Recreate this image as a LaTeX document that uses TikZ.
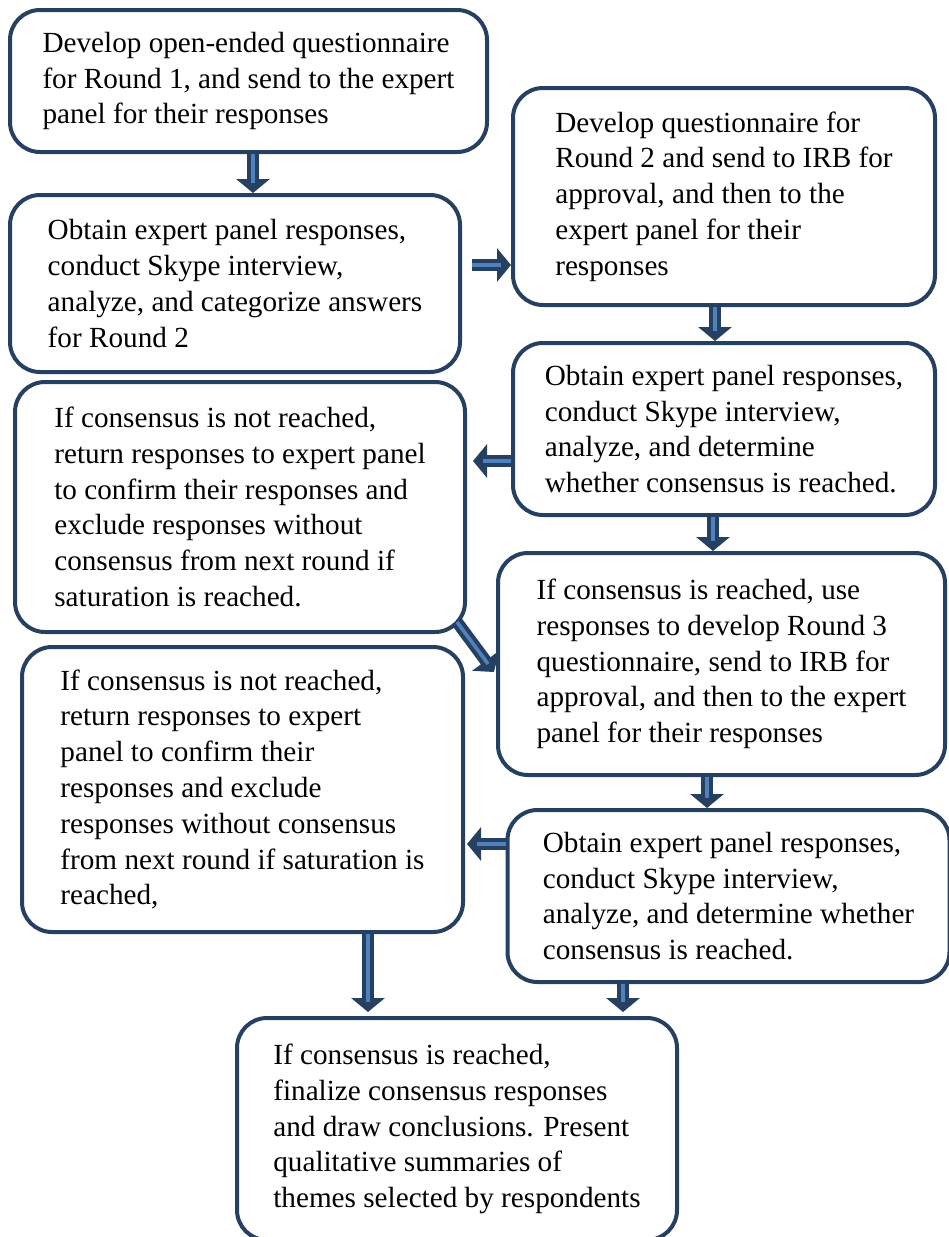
\documentclass[tikz,border=0pt]{standalone}
\usepackage{fontspec}
\setmainfont{Liberation Serif}
\usetikzlibrary{arrows.meta,calc}
\definecolor{navy}{RGB}{38,64,97}
\definecolor{stripe}{RGB}{79,129,189}
\begin{document}
\begin{tikzpicture}[x=0.5pt,y=-0.5pt,
  box/.style={draw=navy, line width=2pt, rounded corners=15pt, rectangle, align=left,
    inner sep=0pt, font=\fontsize{14.6pt}{17.9pt}\selectfont, text=black},
  blk/.style={draw=navy, line width=6pt, -{Triangle[width=16.5pt,length=7pt]}},
  blkin/.style={draw=stripe, line width=1.8pt, shorten >=5pt}]
\useasboundingbox (0,0) rectangle (948,1237);

\node[box, minimum width=238.5pt, minimum height=71pt] (a) at (248.5,81)
  {Develop open-ended questionnaire\\for Round 1, and send to the expert\\panel for their responses};
\node[box, minimum width=225pt, minimum height=88.5pt] (b) at (235,283.5)
  {Obtain expert panel responses,\\conduct Skype interview,\\analyze, and categorize answers\\for Round 2};
\node[box, minimum width=211pt, minimum height=108.5pt] (c) at (724,196.5)
  {Develop questionnaire for\\Round 2 and send to IRB for\\approval, and then to the\\expert panel for their\\responses};
\node[box, minimum width=211pt, minimum height=86pt] (d) at (724,429)
  {Obtain expert panel responses,\\conduct Skype interview,\\analyze, and determine\\whether consensus is reached.};
\node[box, minimum width=225pt, minimum height=125pt] (e) at (240,507)
  {If consensus is not reached,\\return responses to expert panel\\to confirm their responses and\\exclude responses without\\consensus from next round if\\saturation is reached.};
\node[box, minimum width=223.5pt, minimum height=111pt] (f) at (721.5,664)
  {If consensus is reached, use\\responses to develop Round 3\\questionnaire, send to IRB for\\approval, and then to the expert\\panel for their responses};
\node[box, minimum width=220.5pt, minimum height=142.5pt] (g) at (242.5,789.5)
  {If consensus is not reached,\\return responses to expert\\panel to confirm their\\responses and exclude\\responses without consensus\\from next round if saturation is\\reached,};
\node[box, minimum width=221pt, minimum height=86pt] (h) at (728.5,896)
  {Obtain expert panel responses,\\conduct Skype interview,\\analyze, and determine whether\\consensus is reached.};
\node[box, minimum width=220pt, minimum height=111pt] (i) at (457,1129)
  {If consensus is reached,\\finalize consensus responses\\and draw conclusions. Present\\qualitative summaries of\\themes selected by respondents};

\coordinate (x1) at (253,0);
\coordinate (y2) at (0,265);
\coordinate (x3) at (715,0);
\coordinate (y4) at (0,461);
\coordinate (x5) at (713,0);
\coordinate (x7) at (707,0);
\coordinate (y8) at (0,844);
\coordinate (x9) at (368,0);
\coordinate (x10) at (623,0);
\coordinate (es) at ($(e.south east)+(-10,-12)$);
\coordinate (fe) at ($(f.west)+(-2,8)$);

\draw[blk] (a.south -| x1) -- (b.north -| x1);
\draw[blkin] (a.south -| x1) -- (b.north -| x1);

\draw[blk, shorten <=5pt] (b.east |- y2) -- (c.west |- y2);
\draw[blkin, shorten <=5pt] (b.east |- y2) -- (c.west |- y2);

\draw[blk] (c.south -| x3) -- (d.north -| x3);
\draw[blkin] (c.south -| x3) -- (d.north -| x3);

\draw[blk, shorten >=3pt] (d.west |- y4) -- (e.east |- y4);
\draw[blkin, shorten >=8pt] (d.west |- y4) -- (e.east |- y4);

\draw[blk] (d.south -| x5) -- (f.north -| x5);
\draw[blkin] (d.south -| x5) -- (f.north -| x5);

\draw[blk] (es) -- (fe);
\draw[blkin] (es) -- (fe);

\draw[blk] (f.south -| x7) -- (h.north -| x7);
\draw[blkin] (f.south -| x7) -- (h.north -| x7);

\draw[blk, shorten >=1pt] (h.west |- y8) -- (g.east |- y8);
\draw[blkin, shorten >=6pt] (h.west |- y8) -- (g.east |- y8);

\draw[blk, shorten >=2pt] (g.south -| x9) -- (i.north -| x9);
\draw[blkin, shorten >=7pt] (g.south -| x9) -- (i.north -| x9);

\draw[blk, shorten >=2pt] (h.south -| x10) -- (i.north -| x10);
\draw[blkin, shorten >=7pt] (h.south -| x10) -- (i.north -| x10);
\end{tikzpicture}
\end{document}
